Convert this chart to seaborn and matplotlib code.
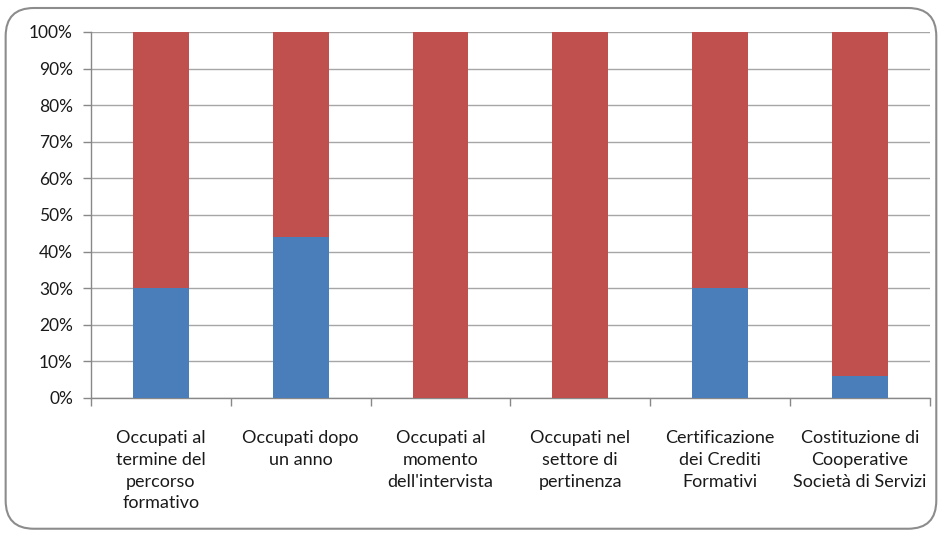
import numpy as np
import pandas as pd
import matplotlib
matplotlib.use("Agg")
import matplotlib.pyplot as plt
import seaborn as sns
from matplotlib.patches import FancyBboxPatch
from matplotlib.ticker import FuncFormatter

categories = [
    "Occupati al\ntermine del\npercorso\nformativo",
    "Occupati dopo\nun anno",
    "Occupati al\nmomento\ndell'intervista",
    "Occupati nel\nsettore di\npertinenza",
    "Certificazione\ndei Crediti\nFormativi",
    "Costituzione di\nCooperative\nSocietà di Servizi",
]
si = [30, 44, 0, 0, 30, 6]
no = [70, 56, 100, 100, 70, 94]

df = pd.DataFrame({"cat": categories, "si": si, "no": no})
df["tot"] = df["si"] + df["no"]

sns.set_style("white")
plt.rcParams["font.family"] = ["Lato", "DejaVu Sans"]

fig = plt.figure(figsize=(9.41, 5.33), dpi=100)
ax = fig.add_axes([0.0967, 0.2533, 0.8913, 0.6867])

# stacked: red total first, blue part on top of it
sns.barplot(data=df, x="cat", y="tot", color="#C0504D", saturation=1,
            width=0.4, linewidth=0, ax=ax, zorder=3)
sns.barplot(data=df, x="cat", y="si", color="#4A7EBB", saturation=1,
            width=0.4, linewidth=0, ax=ax, zorder=4)

ax.set_ylim(0, 100)
ax.set_xlim(-0.5, 5.5)
ax.set_yticks(np.arange(0, 101, 10))
ax.yaxis.set_major_formatter(FuncFormatter(lambda v, p: f"{int(v)}%"))
ax.grid(axis="y", color="#A6A6A6", linewidth=1, zorder=0)
ax.set_axisbelow(True)

ax.set_xticks(np.arange(6))
ax.set_xticklabels(categories, fontsize=13, color="#1a1a1a", linespacing=1.45)
ax.set_xticks(np.arange(-0.5, 6, 1), minor=True)
ax.tick_params(axis="x", which="major", length=0, pad=23)
ax.tick_params(axis="x", which="minor", bottom=True, length=6,
               color="#888888", width=1)
ax.tick_params(axis="y", length=6, color="#888888", width=1, pad=7,
               labelsize=12.5, labelcolor="#1a1a1a", left=True)

ax.set_xlabel("")
ax.set_ylabel("")
for s in ["top", "right"]:
    ax.spines[s].set_visible(False)
for s in ["left", "bottom"]:
    ax.spines[s].set_color("#888888")
    ax.spines[s].set_linewidth(1)

border = FancyBboxPatch((0.006, 0.008), 0.989, 0.977,
                        boxstyle="round,pad=0,rounding_size=0.03",
                        transform=fig.transFigure, fill=False,
                        edgecolor="#8C8C8C", linewidth=1.5,
                        mutation_aspect=941 / 533)
fig.patches.append(border)

fig.savefig("out.png", dpi=100)
